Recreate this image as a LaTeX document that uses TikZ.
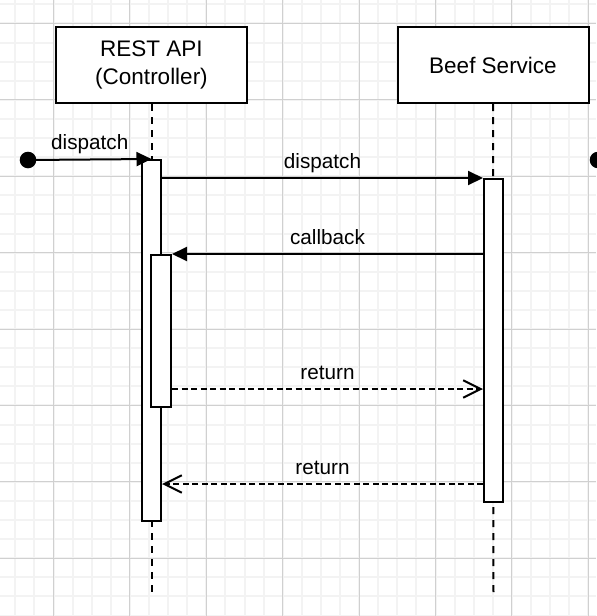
\documentclass[tikz,border=0pt]{standalone}
\usepackage{fontspec}
\setmainfont{Liberation Sans}
\usepackage{tikz}
\usetikzlibrary{arrows.meta}
\definecolor{gridMinor}{HTML}{F3F3F3}
\definecolor{gridMajor}{HTML}{D0D0D0}

\begin{document}
\begin{tikzpicture}[
    x=0.5pt, y=-0.5pt,
    minorLine/.style={draw=gridMinor, line width=1pt},
    majorLine/.style={draw=gridMajor, line width=0.5pt},
    actor/.style={rectangle, draw, line width=1pt, fill=white, minimum width=95.5pt, minimum height=38pt, align=center, font=\fontsize{11.25}{13.85}\selectfont},
    bar/.style={rectangle, draw, line width=1pt, fill=white, minimum width=9.5pt, inner sep=0pt},
    lifeline/.style={line width=1pt, dash pattern=on 3.5pt off 3pt},
    dot/.style={circle, fill=black, minimum size=8.3pt, inner sep=0pt},
    call/.style={-{Triangle[length=7.5pt, width=7pt]}, line width=1pt},
    reply/.style={-{Straight Barb[length=8.8pt, width=8.7pt]}, line width=1pt, dash pattern=on 3pt off 1.75pt},
    msg/.style={anchor=base, inner sep=0pt, yshift=5pt, font=\fontsize{10.35}{12}\selectfont}
]

\useasboundingbox (0,0) rectangle (596,616);
\fill[white] (0,0) rectangle (596,616);
\foreach \i in {-3,...,28} \draw[minorLine] ({53.5+19.1*\i},0) -- ({53.5+19.1*\i},616);
\foreach \i in {-1,...,31} \draw[minorLine] (0,{23.4+19.1*\i}) -- (596,{23.4+19.1*\i});
\foreach \i in {0,...,7} \draw[majorLine] ({53.5+76.4*\i},0) -- ({53.5+76.4*\i},616);
\foreach \i in {0,...,7} \draw[majorLine] (0,{23.4+76.4*\i}) -- (596,{23.4+76.4*\i});

\node[actor] (rest) at (151.5,65) {REST API\\(Controller)};
\node[actor] (beef) at (493,65) {Beef Service};
\coordinate (restEnd) at (151.5,597);
\coordinate (beefEnd) at (493.5,597);
\draw[lifeline] (rest) -- (restEnd);
\draw[lifeline] (beef) -- (beefEnd);

\node[bar, minimum height=180.5pt] (restBar) at (151.5,340.5) {};
\node[bar, minimum height=76pt, minimum width=10pt] (restInner) at (161,331) {};
\node[bar, minimum height=161.5pt] (beefBar) at (493.5,340.5) {};

\node[dot] (found) at (28,160) {};
\node[dot] (edgeDot) at (598,160) {};

\draw[call] (found.center) -- node[msg] {dispatch} (restBar.north);
\draw[call] (restBar.east |- beefBar.north west) -- node[msg] {dispatch} (beefBar.north west);
\draw[call] (beefBar.west |- restInner.north east) -- node[msg] {callback} (restInner.north east);
\draw[reply] ([yshift=9.5pt]restInner.south east) -- node[msg] {return} ([yshift=9.5pt]restInner.south east -| beefBar.west);
\draw[reply] ([yshift=19pt]restBar.south east -| beefBar.west) -- node[msg] {return} ([yshift=19pt]restBar.south east);

\end{tikzpicture}
\end{document}
